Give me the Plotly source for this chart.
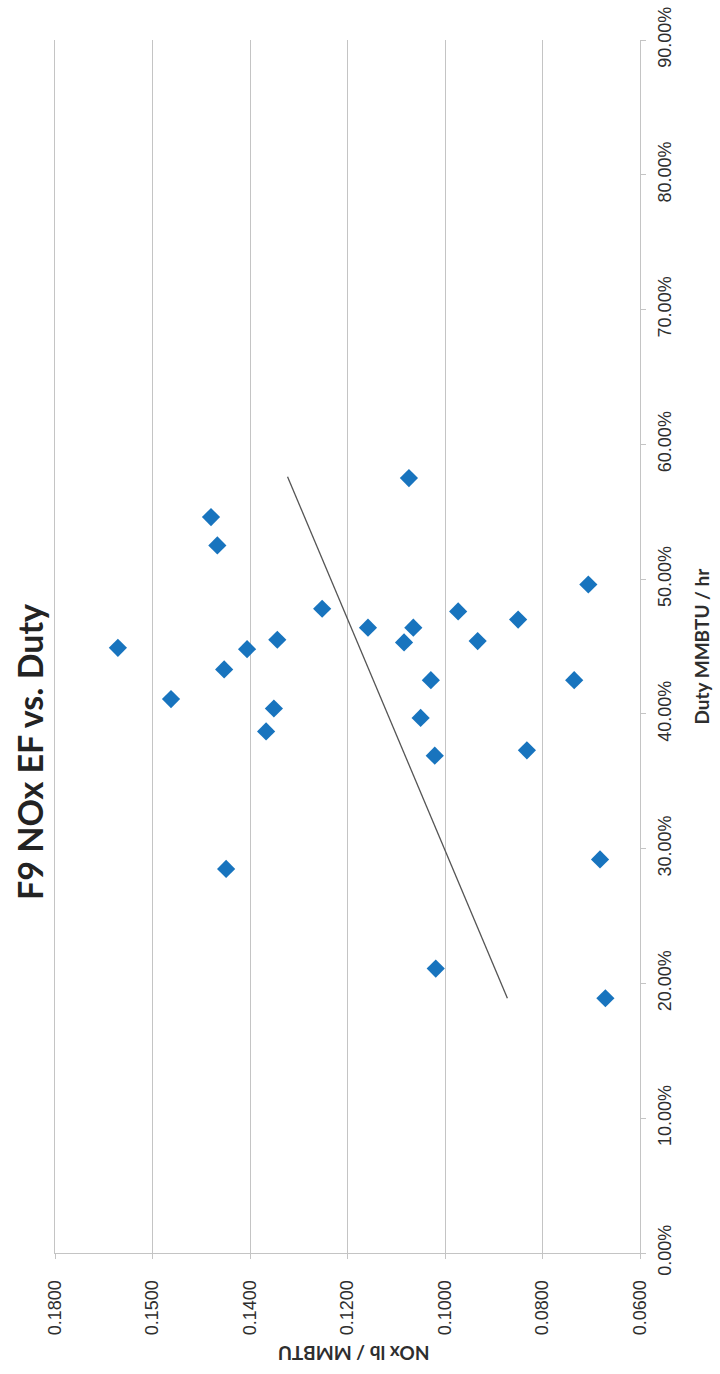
import plotly.graph_objects as go

# ---- data ----
nox = [0.1480, 0.1467, 0.1252, 0.1671, 0.1406, 0.1344, 0.1453, 0.1562, 0.1351,
       0.1367, 0.1449, 0.1074, 0.0706, 0.0973, 0.0850, 0.1158, 0.1065, 0.1084,
       0.0933, 0.1029, 0.0735, 0.1050, 0.1021, 0.0832, 0.0682, 0.1019, 0.0671]
duty = [0.546, 0.525, 0.478, 0.449, 0.448, 0.455, 0.433, 0.411, 0.404,
        0.387, 0.285, 0.575, 0.496, 0.476, 0.470, 0.464, 0.464, 0.453,
        0.454, 0.425, 0.425, 0.397, 0.369, 0.373, 0.292, 0.211, 0.189]
trend_duty = [0.189, 0.576]
trend_nox = [0.0872, 0.1323]

nox_ticks = [0.18, 0.16, 0.14, 0.12, 0.10, 0.08, 0.06]
nox_tick_text = ["0.1800", "0.1500", "0.1400", "0.1200", "0.1000", "0.0800", "0.0600"]
duty_ticks = [0.0, 0.1, 0.2, 0.3, 0.4, 0.5, 0.6, 0.7, 0.8, 0.9]

title_text = "F9 NOx EF vs. Duty"
nox_title = "NOx lb / MMBTU"
duty_title = "Duty MMBTU / hr"

GRID = "#c4c4c4"
TXT = "#2e2e2e"

fig = go.Figure()
fig.add_trace(go.Scatter(
    x=trend_nox, y=trend_duty, mode="lines",
    line=dict(color="#555555", width=1.3), showlegend=False, hoverinfo="skip"))
fig.add_trace(go.Scatter(
    x=nox, y=duty, mode="markers",
    marker=dict(symbol="diamond", size=14, color="#1874BE"),
    showlegend=False))

fig.update_layout(
    width=720, height=1374,
    margin=dict(l=55, r=80, t=40, b=121),
    paper_bgcolor="white", plot_bgcolor="white",
    xaxis=dict(
        range=[0.18, 0.06], tickvals=nox_ticks, ticktext=nox_tick_text,
        tickangle=-90, showgrid=True, gridcolor=GRID, gridwidth=1,
        showline=True, linecolor=GRID, linewidth=1, zeroline=False,
        ticks="outside", ticklen=5, tickcolor=GRID, ticklabelstandoff=14,
        automargin=False,
        tickfont=dict(family="Liberation Sans, Arial", size=18, color=TXT)),
    yaxis=dict(
        range=[0, 0.9], tickvals=duty_ticks, tickformat=".2%", side="right",
        tickangle=-90, showgrid=False, zeroline=False,
        showline=True, linecolor=GRID, linewidth=1, mirror=True,
        ticks="outside", ticklen=5, tickcolor=GRID, ticklabelstandoff=3,
        automargin=False,
        tickfont=dict(family="Liberation Sans, Arial", size=18, color=TXT)),
    annotations=[
        dict(text="<b>" + title_text + "</b>", xref="paper", yref="paper",
             x=-0.0445, y=0.413, xanchor="center", yanchor="middle",
             textangle=-90, showarrow=False,
             font=dict(family="Lato", size=34, color="#232323")),
        dict(text="<b>" + duty_title + "</b>", xref="paper", yref="paper",
             x=1.1035, y=0.5004, xanchor="center", yanchor="middle",
             textangle=-90, showarrow=False,
             font=dict(family="Lato", size=19, color=TXT)),
        dict(text="<b>" + nox_title + "</b>", xref="paper", yref="paper",
             x=0.5098, y=-0.0833, xanchor="center", yanchor="middle",
             textangle=180, showarrow=False,
             font=dict(family="Lato", size=19, color=TXT)),
    ],
)

fig.write_html(
    "out.html",
    config={"displayModeBar": False},
    post_script="document.body.style.margin='0';document.body.style.overflow='hidden';",
)
